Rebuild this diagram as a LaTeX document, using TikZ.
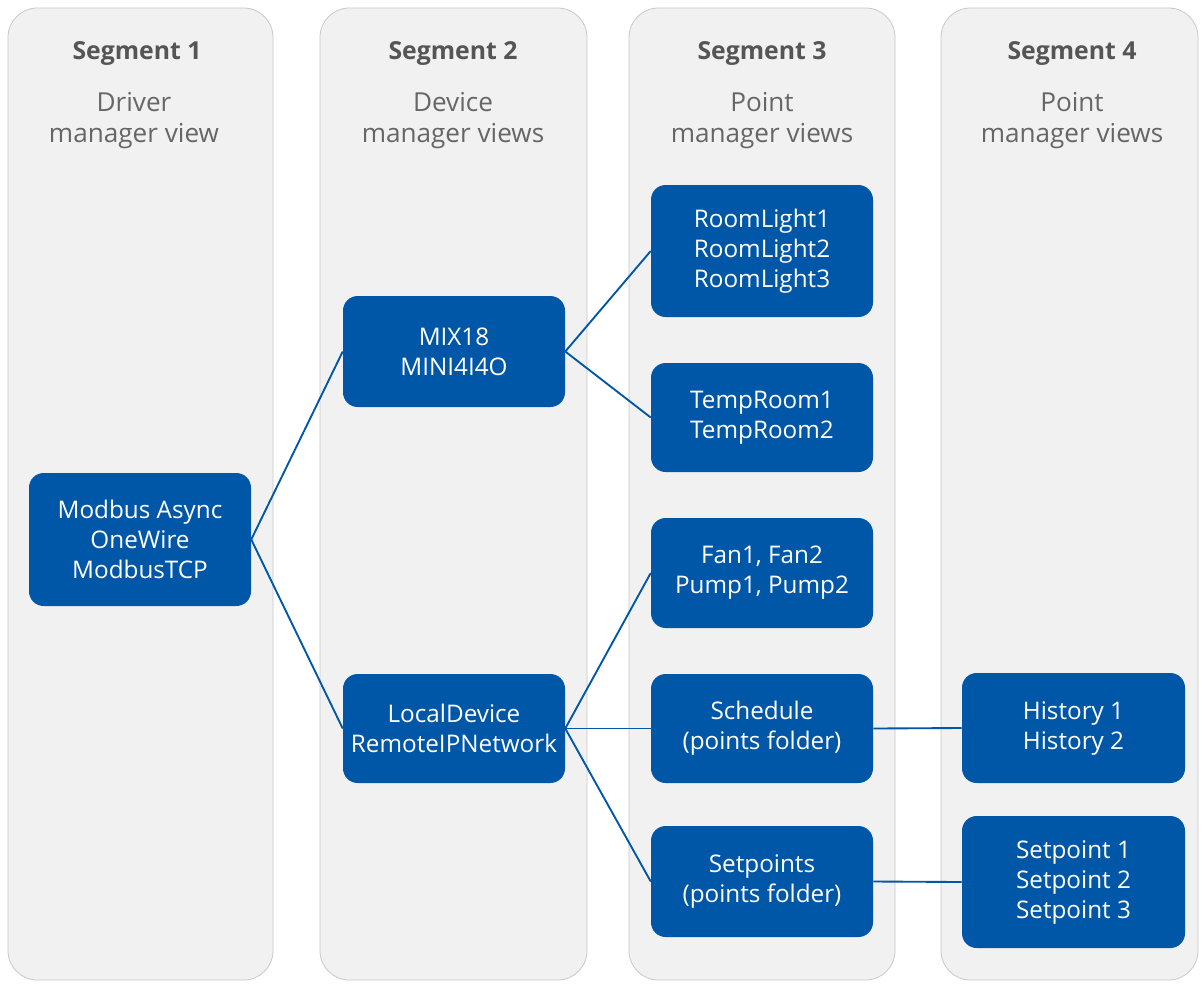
\documentclass[tikz,border=0pt]{standalone}
\usepackage{fontspec}
\setmainfont{Open Sans}
\definecolor{colfill}{HTML}{F1F1F1}
\definecolor{colline}{HTML}{C9C9C9}
\definecolor{boxblue}{HTML}{0057A8}
\definecolor{headgray}{HTML}{555555}
\definecolor{subgray}{HTML}{666666}
\tikzset{
  colbg/.style={fill=colfill,draw=colline,line width=0.6pt,rounded corners=22pt},
  blk/.style={fill=boxblue,draw=none,rounded corners=11pt,text=white,align=center,
    minimum width=166.5pt,inner sep=0pt,font=\fontsize{18.2}{22.5}\selectfont},
  head/.style={text=headgray,font=\fontsize{18.6}{22.5}\selectfont\bfseries,align=center},
  sub/.style={text=subgray,font=\fontsize{19.6}{23.2}\selectfont,align=center},
  link/.style={draw=boxblue,line width=1.4pt}
}
\begin{document}
\begin{tikzpicture}[x=0.75pt,y=-0.75pt]
\useasboundingbox (0,0) rectangle (1203,983);
\fill[white] (0,0) rectangle (1203,983);
% columns
\draw[colbg] (8,8) rectangle (273,980);
\draw[colbg] (320,8) rectangle (587,980);
\draw[colbg] (629,8) rectangle (895,980);
\draw[colbg] (941,8) rectangle (1198,980);
% headers
\node[head] (h1) at (137,53) {Segment 1};
\node[head] (h2) at (453,53) {Segment 2};
\node[head] (h3) at (762,53) {Segment 3};
\node[head] (h4) at (1072,53) {Segment 4};
\node[sub] (s1) at (134,121) {Driver\\manager view};
\node[sub] (s2) at (453,121) {Device\\manager views};
\node[sub] (s3) at (762,121) {Point\\manager views};
\node[sub] (s4) at (1072,121) {Point\\manager views};
% boxes
\node[blk,minimum height=99.75pt] (mod) at (140,539.5) {Modbus Async\\OneWire\\ModbusTCP};
\node[blk,minimum height=83.25pt] (mix) at (454,351.5) {MIX18\\MINI4I4O};
\node[blk,minimum height=81.75pt] (loc) at (454,728.5) {LocalDevice\\RemoteIPNetwork};
\node[blk,minimum height=99pt] (room) at (762,251) {RoomLight1\\RoomLight2\\RoomLight3};
\node[blk,minimum height=81.75pt] (temp) at (762,417.5) {TempRoom1\\TempRoom2};
\node[blk,minimum height=82.5pt] (fan) at (762,573) {Fan1, Fan2\\Pump1, Pump2};
\node[blk,minimum height=81.75pt] (sch) at (762,728.5) {Schedule\\(points folder)};
\node[blk,minimum height=83.25pt] (setf) at (762,881.5) {Setpoints\\(points folder)};
\node[blk,minimum height=82.5pt,minimum width=167.25pt] (hist) at (1073.5,728) {History 1\\History 2};
\node[blk,minimum height=99pt,minimum width=167.25pt] (setp) at (1073.5,882) {Setpoint 1\\Setpoint 2\\Setpoint 3};
% connectors
\draw[link] (mod.east) -- (mix.west);
\draw[link] (mod.east) -- (loc.west);
\draw[link] (mix.east) -- (room.west);
\draw[link] (mix.east) -- (temp.west);
\draw[link] (loc.east) -- (fan.west);
\draw[link] (loc.east) -- (sch.west);
\draw[link] (loc.east) -- (setf.west);
\draw[link] (sch.east) -- (hist.west);
\draw[link] (setf.east) -- (setp.west);
\end{tikzpicture}
\end{document}
